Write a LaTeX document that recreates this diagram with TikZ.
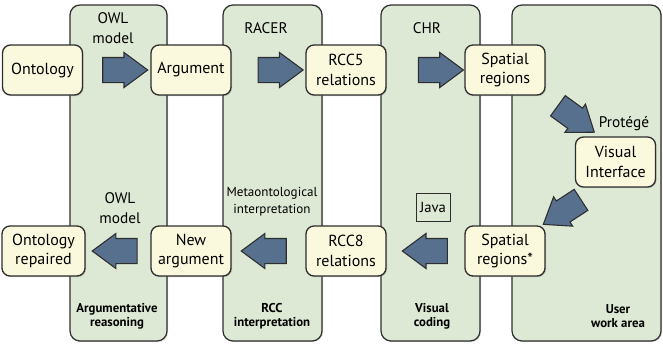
\documentclass[tikz,border=0pt]{standalone}
\usepackage{fontspec}
\setmainfont{PT Sans}
\usetikzlibrary{calc}
\usetikzlibrary{shapes.arrows}
\usetikzlibrary{shadows}

\definecolor{panelgreen}{HTML}{DDE9D4}
\definecolor{boxcream}{HTML}{FBF9DD}
\definecolor{arrowblue}{HTML}{56708E}
\definecolor{edgegray}{HTML}{2E2E2E}

\tikzset{
  panel/.style={draw=edgegray, line width=0.9pt, fill=panelgreen, rounded corners=7.5pt,
    drop shadow={shadow xshift=0.8pt, shadow yshift=-0.8pt, opacity=0.3}},
  box/.style={draw=edgegray, line width=1pt, fill=boxcream, rounded corners=6pt,
    minimum width=60pt, minimum height=37.5pt, align=center, inner sep=1pt,
    font=\fontsize{12}{14.5}\selectfont,
    drop shadow={shadow xshift=0.8pt, shadow yshift=-0.8pt, opacity=0.35}},
  blockarrow/.style={single arrow, draw=edgegray, line width=0.8pt, fill=arrowblue,
    minimum height=33.75pt, minimum width=25.5pt, inner xsep=0pt, inner ysep=9pt,
    single arrow head extend=3.75pt, single arrow tip angle=73},
  lbl/.style={align=center, font=\fontsize{11.5}{15}\selectfont},
  small/.style={align=center, font=\fontsize{9.8}{12.5}\selectfont},
  tag/.style={align=center, font=\fontsize{9.6}{10.5}\selectfont\bfseries}
}

\begin{document}
\begin{tikzpicture}[x=0.75pt,y=-0.75pt]
  \useasboundingbox (0,0) rectangle (663,347);

  % Panels
  \node[panel, minimum width=72.75pt, minimum height=252pt]  (owlcol)  at (118.5,173) {};
  \node[panel, minimum width=74.25pt, minimum height=252pt]  (racercol) at (272.5,173) {};
  \node[panel, minimum width=74.25pt, minimum height=252pt]  (chrcol)  at (430.5,173) {};
  \node[panel, minimum width=111.75pt, minimum height=252pt] (usercol) at (586.5,173) {};

  % Boxes
  \node[box]                        (onto)  at (42.5,70)  {Ontology};
  \node[box]                        (arg)   at (191,70)   {Argument};
  \node[box]                        (rccv)  at (346,70)   {RCC5\\relations};
  \node[box]                        (sp)    at (505,70)   {Spatial\\regions};
  \node[box]                        (vi)    at (615.5,162) {Visual\\Interface};
  \node[box]                        (spx)   at (505,251)  {Spatial\\regions*};
  \node[box]                        (rccviii) at (346,251) {RCC8\\relations};
  \node[box]                        (newarg) at (191,251) {New\\argument};
  \node[box, minimum width=62.25pt] (repair) at (43.5,251) {Ontology\\repaired};

  % Labels
  \node[lbl]   (owltop)  at (113,28)  {OWL\\model};
  \node[lbl]   (racer)   at (266,28)  {RACER};
  \node[lbl]   (chr)     at (427,28)  {CHR};
  \node[lbl]   (protege) at (624,124) {Protégé};
  \node[lbl]   (owlbot)  at (120,208) {OWL\\model};
  \node[small] (meta)    at (272,202) {Metaontological\\interpretation};
  \node[draw=edgegray, line width=0.5pt, minimum width=25.5pt, minimum height=21pt,
        inner sep=1pt, font=\fontsize{11}{12}\selectfont]
               (java)    at (433,207) {Java};
  \node[tag]   (argtag)  at (117,316) {Argumentative\\reasoning};
  \node[tag]   (rcctag)  at (272,316) {RCC\\interpretation};
  \node[tag]   (vistag)  at (432,316) {Visual\\coding};
  \node[tag]   (usertag) at (618,316) {User\\work area};

  % Arrows
  \node[blockarrow] (a1) at ($(onto.east)!0.5!(arg.west)$) {};
  \node[blockarrow] (a2) at ($(arg.east)!0.55!(rccv.west)$) {};
  \node[blockarrow] (a3) at ($(rccv.east)!0.59!(sp.west)$) {};
  \node[blockarrow, rotate=-36] (a4) at ($(sp.south east)!0.5!(vi.north west)+(9,-2)$) {};
  \node[blockarrow, rotate=213] (a5) at ($(vi.south west)!0.5!(spx.north east)+(9,1)$) {};
  \node[blockarrow, rotate=180] (a6) at ($(spx.west)!0.4!(rccviii.east)$) {};
  \node[blockarrow, rotate=180] (a7) at ($(rccviii.west)!0.45!(newarg.east)$) {};
  \node[blockarrow, rotate=180] (a8) at ($(newarg.west)!0.42!(repair.east)$) {};
\end{tikzpicture}
\end{document}
